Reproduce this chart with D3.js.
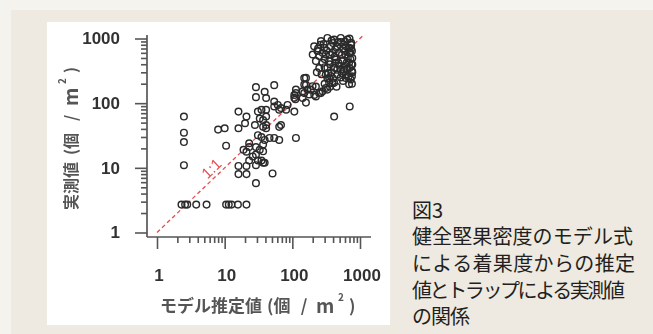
<!DOCTYPE html>
<html>
<head>
<meta charset="utf-8">
<script src="https://cdn.jsdelivr.net/npm/d3@7"></script>
<style>
  html, body { margin: 0; padding: 0; background: #f5f3ee; }
  svg { display: block; }
</style>
</head>
<body>
<svg id="chart" width="653" height="334"></svg>
<script>
// Model estimate (x) and trap measurement (y), nuts per m², paired by index
const estimated = [
  2.5, 2.5, 2.5, 2.5, 2.3, 2.6, 2.8, 3.8, 5.4, 10.5, 11.5, 12.6, 15.7, 21,
  8, 10, 16, 10.5, 16, 21, 16, 16, 21, 21, 21, 20, 19,
  29, 29, 39, 41, 54, 33, 41, 28, 37, 31, 39, 23, 33, 23, 31,
  26, 29, 37, 23, 29, 37, 35, 46, 54, 64,
  41, 31, 37, 41, 54, 64, 81, 61, 54, 68, 85, 35, 41, 68, 64, 37, 35,
  51, 29, 29, 39,
  107, 107, 113, 150, 159, 150, 142, 159, 113, 111, 223, 264, 211, 188, 313, 392, 350,
  223, 159, 150, 142, 168, 199, 113, 107, 178, 249,
  210, 265, 330, 415, 520, 650, 740,
  235, 295, 370, 465, 580, 690,
  200, 250, 313, 390, 490, 615, 720, 770,
  223, 280, 350, 440, 550, 690, 770,
  330, 415, 520, 650, 760,
  313, 370, 465, 615, 730,
  350, 415, 690, 330, 280,
  260, 400, 600, 700, 300, 420, 560, 480, 380, 600, 520, 450, 560, 760, 770, 760,
  250, 230, 740, 760, 330, 400, 300, 360,
  240, 280, 320, 360, 430, 470, 540, 600, 660, 700, 720, 640, 580, 500, 430,
  360, 300, 270, 340, 460, 540, 620, 680, 700, 750, 740, 620, 520, 380, 290,
  705, 415
];
const measured = [
  62, 35, 25, 11, 2.7, 2.7, 2.7, 2.7, 2.7, 2.7, 2.7, 2.7, 2.7, 2.7,
  39, 41, 41, 22, 74, 62, 10.7, 8, 10.7, 8, 17.7, 49, 19,
  177, 124, 150, 120, 190, 58, 62, 46, 43, 32, 27, 21, 19, 13, 13,
  15, 11, 12, 24, 21, 23, 30, 29, 29, 27,
  46, 74, 55, 79, 89, 79, 79, 94, 106, 84, 94, 79, 41, 46, 43, 18, 13,
  8.2, 5.8, 16, 12,
  134, 74, 29, 244, 192, 143, 120, 102, 143, 115, 181, 143, 134, 161, 171, 204, 244,
  127, 246, 194, 153, 162, 183, 162, 121, 136, 144,
  760, 910, 1020, 965, 1020, 965, 860,
  640, 720, 760, 760, 810, 720,
  565, 535, 565, 600, 600, 565, 600, 500,
  447, 420, 447, 473, 447, 420, 396,
  352, 352, 331, 331, 313,
  277, 262, 277, 246, 232,
  206, 206, 196, 162, 153,
  800, 850, 900, 1000, 480, 520, 700, 420, 300, 380, 250, 180, 220, 260, 300, 640,
  350, 300, 800, 200, 240, 240, 200, 180,
  700, 600, 650, 560, 680, 880, 560, 640, 500, 600, 480, 430, 330, 380, 420,
  400, 360, 280, 290, 330, 290, 280, 260, 350, 400, 700, 760, 880, 930, 820,
  89, 62
];

const majorTicks = [1, 10, 100, 1000];
const tickLabels = ["1", "10", "100", "1000"];
const oneToOne = [1, 1150];
const captionLines = [
  "図3",
  "健全堅果密度のモデル式",
  "による着果度からの推定",
  "値とトラップによる実測値",
  "の関係"
];

const svg = d3.select("#chart");

// page panels
svg.append("rect").attr("x", 11).attr("y", 10).attr("width", 642).attr("height", 324)
  .attr("fill", "#eeeae1");
svg.append("rect").attr("x", 47).attr("y", 22).attr("width", 343).attr("height", 303)
  .attr("fill", "#ffffff");

const defs = svg.append("defs");
defs.append("filter").attr("id", "soft")
  .append("feGaussianBlur").attr("stdDeviation", 0.75);

const x = d3.scaleLog().domain([1, 1000]).range([157, 360]);
const y = d3.scaleLog().domain([1, 1000]).range([232.5, 38.5]);

const plot = svg.append("g").attr("filter", "url(#soft)");

const axisColor = "#555";
const numFont = "'Liberation Sans', Arial, sans-serif";
const jpFont = "'Noto Sans CJK JP', 'Noto Sans', sans-serif";

// axis lines
plot.append("line").attr("x1", 147).attr("x2", 147).attr("y1", 35).attr("y2", 237)
  .attr("stroke", axisColor).attr("stroke-width", 1.7);
plot.append("line").attr("x1", 147).attr("x2", 371).attr("y1", 237).attr("y2", 237)
  .attr("stroke", axisColor).attr("stroke-width", 1.7);

const minorX = x.ticks().filter(v => !majorTicks.includes(v));
const minorY = y.ticks().filter(v => !majorTicks.includes(v));

function styleAxis(g) {
  g.select(".domain").remove();
  g.selectAll(".tick line").attr("stroke", axisColor).attr("stroke-width", 1.6);
  g.selectAll("text")
    .attr("fill", "#333")
    .style("font-family", numFont)
    .style("font-size", "17px")
    .style("font-weight", "bold");
}

// y axis
plot.append("g").attr("transform", "translate(147,0)")
  .call(d3.axisLeft(y).tickValues(minorY).tickSize(6).tickFormat(""))
  .call(styleAxis);
plot.append("g").attr("transform", "translate(147,0)")
  .call(d3.axisLeft(y).tickValues(majorTicks).tickSize(12).tickPadding(15)
    .tickFormat((d, i) => tickLabels[i]))
  .call(styleAxis);

// x axis
plot.append("g").attr("transform", "translate(0,237)")
  .call(d3.axisBottom(x).tickValues(minorX).tickSize(6).tickFormat(""))
  .call(styleAxis);
const xg = plot.append("g").attr("transform", "translate(0,237)")
  .call(d3.axisBottom(x).tickValues(majorTicks).tickSize(12).tickPadding(20)
    .tickFormat((d, i) => tickLabels[i]))
  .call(styleAxis);
xg.selectAll("text").attr("dx", 1.5);

// 1:1 reference line
plot.append("line")
  .attr("x1", x(oneToOne[0])).attr("y1", y(oneToOne[0]))
  .attr("x2", x(oneToOne[1])).attr("y2", y(oneToOne[1]))
  .attr("stroke", "#e5484b").attr("stroke-width", 1.3)
  .attr("stroke-dasharray", "4,3");

const ang = Math.atan2(y(1) - y(10), x(10) - x(1));
const labelAt = 7.8;
const nx = -Math.sin(ang) * 9, ny = -Math.cos(ang) * 9;
plot.append("text")
  .attr("transform", `translate(${x(labelAt) + nx},${y(labelAt) + ny}) rotate(${-ang * 180 / Math.PI})`)
  .attr("text-anchor", "middle").attr("dominant-baseline", "central")
  .attr("fill", "#e5484b")
  .style("font-family", numFont).style("font-size", "15px")
  .text("1:1");

// points
const pts = estimated.map((e, i) => ({ e, m: measured[i] }));
plot.append("g").selectAll("circle").data(pts).join("circle")
  .attr("cx", d => x(d.e)).attr("cy", d => y(d.m)).attr("r", 3.3)
  .attr("fill", "none").attr("stroke", "#2b2b2b").attr("stroke-width", 1.45);

// axis titles: unit "(個 / m²)" laid out piece by piece from offset `o`
function unitText(g, o) {
  g.append("text").attr("x", o).attr("dominant-baseline", "central").text("(個");
  g.append("text").attr("x", o + 37).attr("dominant-baseline", "central")
    .attr("text-anchor", "middle").text("/");
  g.append("text").attr("x", o + 49).attr("dominant-baseline", "central")
    .style("font-size", "19px").text("m");
  g.append("text").attr("x", o + 71).attr("y", -8).attr("dominant-baseline", "central")
    .style("font-size", "10px").text("2");
  g.append("text").attr("x", o + 82).attr("dominant-baseline", "central").text(")");
}

const xt = plot.append("g").attr("transform", "translate(160,304)")
  .style("font-family", jpFont).style("font-size", "17px").style("font-weight", "bold")
  .attr("fill", "#555");
xt.append("text").attr("dominant-baseline", "central").text("モデル推定値");
unitText(xt, 107);

const yt = plot.append("g").attr("transform", "translate(69.5,210) rotate(-90)")
  .style("font-family", jpFont).style("font-size", "16px").style("font-weight", "bold")
  .attr("fill", "#555");
yt.append("text").attr("dominant-baseline", "central").text("実測値");
unitText(yt, 55);

// caption
const capWidths = [null, 221, 223, 213, 58];
svg.append("g").selectAll("text").data(captionLines).join("text")
  .attr("x", 412)
  .attr("y", (d, i) => 217.6 + i * 26.7)
  .attr("fill", "#231f20")
  .style("font-family", jpFont).style("font-size", "20px")
  .each(function (d, i) {
    if (capWidths[i]) d3.select(this).attr("textLength", capWidths[i]).attr("lengthAdjust", "spacing");
  })
  .text(d => d);
</script>
</body>
</html>
